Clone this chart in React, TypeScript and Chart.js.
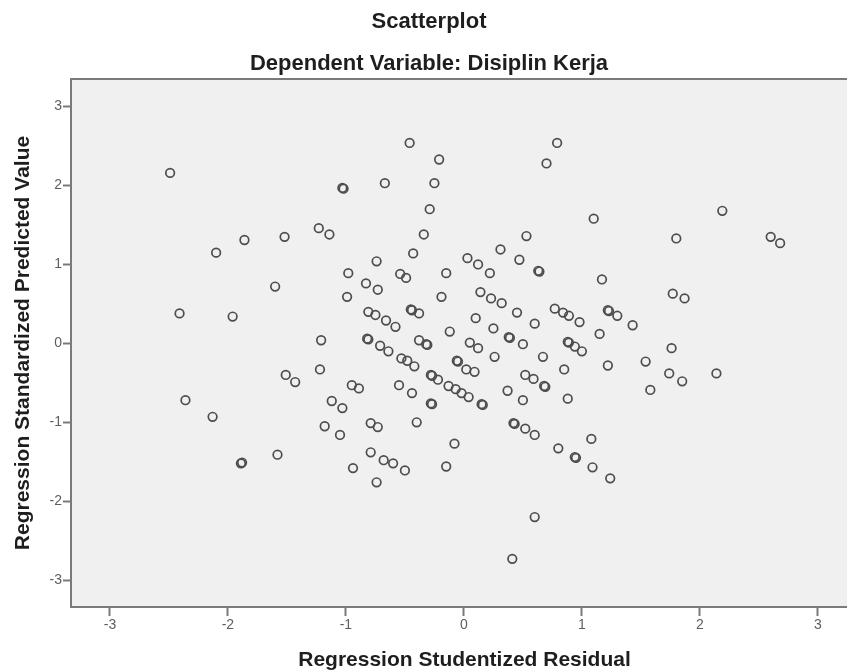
import React, { useEffect, useRef } from 'react';
import { Chart, registerables } from 'chart.js';

Chart.register(...registerables);

// Regression Studentized Residual (x) and Regression Standardized Predicted Value (y)
const residuals: number[] = [
  -2.49, -2.10, -1.86, -1.52, -1.60, -2.41, -1.96, -2.36, -2.13, -1.89, -1.88, -1.58, -1.51, -1.43,
  -0.46, -0.21, -0.25, -0.67, -1.03, -1.02, -0.29, -1.23, -1.14, -0.34, -0.43, -0.74, -0.98, -0.83,
  -0.73, -0.54, -0.49, -0.15, 0.03, 0.12, 0.22, -0.99, -0.19, 0.14, 0.79, 0.70, 1.10, 1.80, 0.53,
  0.31, 0.47, 0.63, 0.64, 1.17, 1.77, 1.87, 0.23, 0.32, 2.19, 2.60, 2.68, 1.76, 1.54, 1.74, 2.14,
  1.85, 1.58, -0.81, -0.75, -0.66, -0.58, -0.45, -0.44, -0.38, -0.12, 0.05, -1.21, -0.82, -0.81,
  -0.71, -0.64, -0.38, -0.32, -0.31, -0.53, -0.48, -0.42, -0.06, -0.05, 0.02, -1.22, -0.28, -0.27,
  -0.22, -0.13, -0.07, -0.02, 0.04, -0.55, -0.44, -0.95, -0.89, -1.12, -1.03, -0.28, -0.27, -0.40,
  -1.18, -1.05, -0.79, -0.73, -0.08, -0.79, -0.68, -0.60, -0.50, -0.94, -0.15, -0.74, 0.60, 0.41,
  1.09, 1.24, 0.45, 0.10, 0.60, 0.77, 0.84, 0.89, 0.98, 1.22, 1.23, 1.30, 1.43, 1.15, 0.25, 0.38,
  0.39, 0.50, 0.12, 0.26, 0.67, 0.88, 0.89, 0.94, 1.00, 1.22, 0.09, 0.85, 0.52, 0.59, 0.68, 0.69,
  0.16, 0.15, 0.37, 0.50, 0.88, 0.42, 0.43, 0.52, 0.60, 1.08, 0.80, 0.94, 0.95,
];

const predicted: number[] = [
  2.16, 1.15, 1.31, 1.35, 0.72, 0.38, 0.34, -0.72, -0.93, -1.52, -1.51, -1.41, -0.40, -0.49,
  2.54, 2.33, 2.03, 2.03, 1.97, 1.96, 1.70, 1.46, 1.38, 1.38, 1.14, 1.04, 0.89, 0.76,
  0.68, 0.88, 0.83, 0.89, 1.08, 1.00, 0.89, 0.59, 0.59, 0.65, 2.54, 2.28, 1.58, 1.33, 1.36,
  1.19, 1.06, 0.92, 0.91, 0.81, 0.63, 0.57, 0.57, 0.51, 1.68, 1.35, 1.27, -0.06, -0.23, -0.38, -0.38,
  -0.48, -0.59, 0.40, 0.36, 0.29, 0.21, 0.43, 0.42, 0.38, 0.15, 0.01, 0.04, 0.06, 0.05,
  -0.03, -0.10, 0.04, -0.01, -0.02, -0.19, -0.22, -0.29, -0.22, -0.23, -0.33, -0.33, -0.40, -0.41,
  -0.46, -0.54, -0.58, -0.63, -0.68, -0.53, -0.63, -0.53, -0.57, -0.73, -0.82, -0.76, -0.77, -1.00,
  -1.05, -1.16, -1.01, -1.06, -1.27, -1.38, -1.48, -1.52, -1.61, -1.58, -1.56, -1.76, -2.20, -2.73,
  -1.57, -1.71, 0.39, 0.32, 0.25, 0.44, 0.39, 0.35, 0.27, 0.42, 0.41, 0.35, 0.23, 0.12, 0.19, 0.08,
  0.07, -0.01, -0.06, -0.17, -0.17, 0.02, 0.01, -0.04, -0.10, -0.28, -0.36, -0.33, -0.40, -0.45, -0.54, -0.55,
  -0.78, -0.77, -0.60, -0.72, -0.70, -1.01, -1.02, -1.08, -1.16, -1.21, -1.33, -1.44, -1.45,
];

const xTickValues: number[] = [-3, -2, -1, 0, 1, 2, 3];
const yTickValues: number[] = [-3, -2, -1, 0, 1, 2, 3];

const FONT = "'Liberation Sans', Arial, Helvetica, sans-serif";

export default function App() {
  const ref = useRef<HTMLCanvasElement | null>(null);

  useEffect(() => {
    const canvas = ref.current;
    if (!canvas) return;
    const points = residuals.map((x, i) => ({ x, y: predicted[i] }));

    const framePlugin = {
      id: 'frame',
      beforeDraw(chart: any) {
        const { ctx, chartArea: a } = chart;
        ctx.save();
        ctx.fillStyle = '#F0F0F0';
        ctx.fillRect(a.left, a.top, a.right - a.left, a.bottom - a.top);
        ctx.restore();
      },
      beforeDatasetsDraw(chart: any) {
        const { ctx, chartArea: a } = chart;
        ctx.save();
        ctx.strokeStyle = '#7a7a7a';
        ctx.lineWidth = 2;
        ctx.beginPath();
        ctx.moveTo(a.left, a.top);
        ctx.lineTo(a.right, a.top);
        ctx.lineTo(a.right, a.bottom);
        ctx.stroke();
        ctx.restore();
      },
    };

    const chart = new Chart(canvas, {
      type: 'scatter',
      data: {
        datasets: [
          {
            data: points,
            pointStyle: 'circle',
            pointRadius: 4.3,
            pointHoverRadius: 4.3,
            pointBorderWidth: 1.7,
            pointBorderColor: '#4d4d4d',
            pointBackgroundColor: 'rgba(0,0,0,0)',
            borderColor: '#4d4d4d',
            backgroundColor: 'rgba(0,0,0,0)',
          },
        ],
      },
      options: {
        responsive: false,
        animation: false,
        events: [],
        layout: { padding: 0, autoPadding: false },
        plugins: {
          legend: { display: false },
          tooltip: { enabled: false },
          title: {
            display: true,
            text: 'Scatterplot',
            color: '#1e1e1e',
            font: { family: FONT, size: 22, weight: 'bold', lineHeight: 1.2 },
            padding: { top: 8.5, bottom: 5 },
          },
          subtitle: {
            display: true,
            text: 'Dependent Variable: Disiplin Kerja',
            color: '#1e1e1e',
            font: { family: FONT, size: 22, weight: 'bold', lineHeight: 1.2 },
            padding: { top: 10.4, bottom: 2.3 },
          },
        },
        scales: {
          x: {
            type: 'linear',
            min: -3.33,
            max: 3.34,
            afterBuildTicks: (scale: any) => {
              scale.ticks = xTickValues.map((v) => ({ value: v }));
            },
            afterFit: (scale: any) => {
              scale.height = 64;
              scale.paddingLeft = 0;
              scale.paddingRight = 0;
            },
            grid: {
              display: true,
              drawOnChartArea: false,
              drawTicks: true,
              tickLength: 9,
              tickWidth: 2,
              tickColor: '#7a7a7a',
            },
            border: { display: true, color: '#7a7a7a', width: 2 },
            ticks: {
              color: '#5e5e5e',
              font: { family: FONT, size: 14 },
              padding: 1,
              maxRotation: 0,
              autoSkip: false,
              callback: (v: any) => String(v),
            },
            title: {
              display: true,
              text: 'Regression Studentized Residual',
              color: '#1e1e1e',
              font: { family: FONT, size: 21, weight: 'bold', lineHeight: 1 },
              padding: { top: 0, bottom: 0.5 },
            },
          },
          y: {
            type: 'linear',
            min: -3.34,
            max: 3.35,
            afterBuildTicks: (scale: any) => {
              scale.ticks = yTickValues.map((v) => ({ value: v }));
            },
            afterFit: (scale: any) => {
              scale.width = 71;
              scale.paddingTop = 0;
              scale.paddingBottom = 0;
            },
            grid: {
              display: true,
              drawOnChartArea: false,
              drawTicks: true,
              tickLength: 8,
              tickWidth: 2,
              tickColor: '#7a7a7a',
            },
            border: { display: true, color: '#7a7a7a', width: 2 },
            ticks: {
              color: '#5e5e5e',
              font: { family: FONT, size: 14 },
              padding: 1,
              autoSkip: false,
              callback: (v: any) => String(v),
            },
            title: {
              display: true,
              text: 'Regression Standardized Predicted Value',
              color: '#1e1e1e',
              font: { family: FONT, size: 21, weight: 'bold', lineHeight: 1.2 },
              padding: { top: 10.9, bottom: 0 },
            },
          },
        },
      } as any,
      plugins: [framePlugin],
    });

    return () => {
      chart.destroy();
    };
  }, []);

  return (
    <div
      style={{
        position: 'fixed',
        left: 0,
        top: 0,
        width: 847,
        height: 671,
        overflow: 'hidden',
        background: '#ffffff',
      }}
    >
      <canvas ref={ref} width={858} height={671} style={{ display: 'block', width: 858, height: 671 }} />
    </div>
  );
}
